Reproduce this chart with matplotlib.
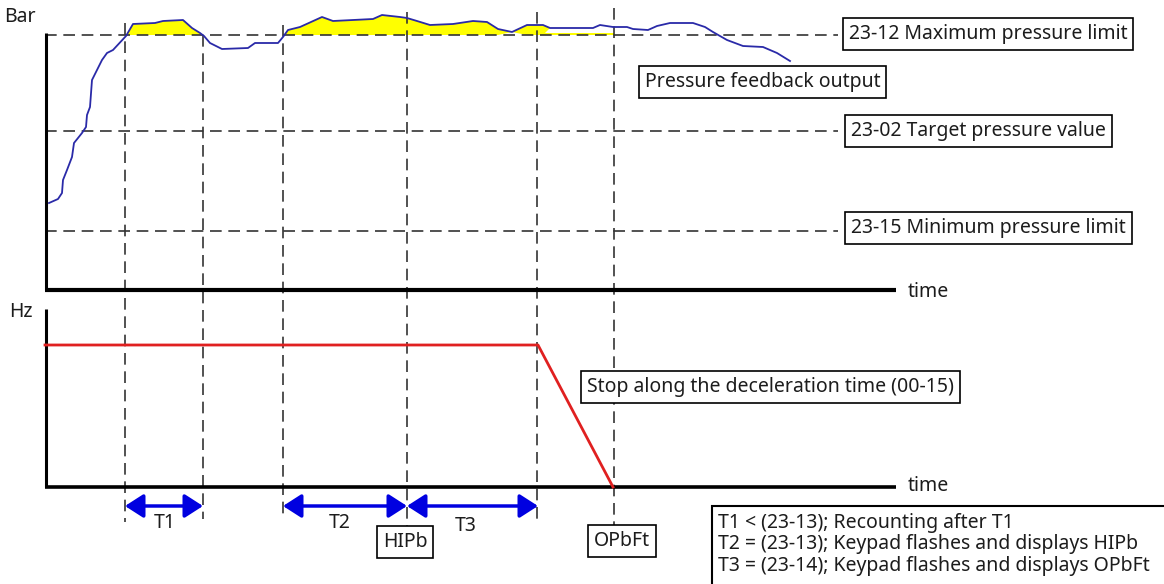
import matplotlib.pyplot as plt
from matplotlib.patches import Rectangle

plt.rcParams['font.family'] = ['Noto Sans', 'DejaVu Sans']

W, H = 1164, 584

# pressure feedback curve (x = time px, y = screen px, small y = high pressure)
press_x = [49, 58, 62, 63, 67, 72, 74, 82, 86, 87, 90, 92, 97, 102, 107, 113, 126, 133,
           155, 163, 183, 192, 200, 204, 210, 222, 248, 255, 278, 283, 288, 300, 322,
           333, 373, 382, 400, 407, 417, 430, 453, 473, 487, 498, 512, 527, 543, 550,
           593, 600, 613, 627, 633, 648, 657, 670, 693, 705, 713, 727, 743, 763, 777, 790]
press_y = [203, 199, 193, 180, 170, 157, 143, 133, 127, 115, 107, 80, 70, 60, 53, 50, 36, 24,
           23, 21, 20, 28, 33, 36, 43, 49, 48, 43, 43, 37, 30, 27, 17,
           21, 19, 15, 17, 18, 21, 25, 24, 21, 22, 29, 32, 25, 25, 28,
           28, 25, 27, 27, 29, 30, 26, 23, 23, 27, 32, 40, 46, 47, 53, 61]

max_limit = 35
target = 131
min_limit = 231

# frequency output
freq_x = [45, 538, 613]
freq_y = [345, 345, 487]

# vertical time markers: x, top, bottom
mark_x = [125, 203, 283, 407, 537, 614]
mark_top = [23, 35, 25, 12, 12, 8]
mark_bot = [522, 519, 520, 528, 522, 527]

# T intervals
spans = [(125, 203), (283, 407), (407, 538)]
span_labels = ['T1', 'T2', 'T3']
span_label_x = [165, 340, 466]
span_label_y = [523, 523, 526]

fig = plt.figure(figsize=(W / 100, H / 100), dpi=100)
ax = fig.add_axes([0, 0, 1, 1])
ax.set_xlim(0, W)
ax.set_ylim(H, 0)
ax.axis('off')

txt = '#1c1c1c'
fs = 14

# limit lines
for y in [max_limit, target, min_limit]:
    ax.plot([45, 838], [y, y], color='#333333', lw=1.2, ls=(0, (7, 4)), zorder=2)

# time markers
for x, t, b in zip(mark_x, mark_top, mark_bot):
    ax.plot([x, x], [t, b], color='#333333', lw=1.2, ls=(0, (7, 4)), zorder=2)

# yellow area above the max limit
ax.fill_between(press_x, press_y, max_limit,
                where=[(126 <= x <= 204) or (283 <= x <= 498) or (527 <= x <= 543) for x in press_x],
                color='#ffff00', interpolate=True, lw=0, zorder=1)
ax.fill_between([543, 614], [32.5, 32.5], max_limit, color='#ffff00', lw=0, zorder=1)
ax.plot(press_x, press_y, color='#2a2aa8', lw=1.3, zorder=3)

# axes of both panels
ax.plot([46, 46], [33, 290], color='black', lw=2.2, solid_capstyle='butt')
ax.plot([45, 896], [290, 290], color='black', lw=3, solid_capstyle='butt')
ax.plot([46, 46], [309, 487], color='black', lw=2.2, solid_capstyle='butt')
ax.plot([45, 896], [487, 487], color='black', lw=2.6, solid_capstyle='butt')

ax.plot(freq_x, freq_y, color='#e02020', lw=2, zorder=3)

ax.text(20, 17, 'Bar', ha='center', va='center', fontsize=fs, color=txt)
ax.text(21, 312, 'Hz', ha='center', va='center', fontsize=fs, color=txt)
ax.text(908, 292, 'time', ha='left', va='center', fontsize=fs, color=txt)
ax.text(908, 486, 'time', ha='left', va='center', fontsize=fs, color=txt)

box = dict(boxstyle='square,pad=0.3', fc='white', ec='black', lw=1.2)
ax.text(849, 34, '23-12 Maximum pressure limit', ha='left', va='center', fontsize=fs, color=txt, bbox=box)
ax.text(645, 82, 'Pressure feedback output', ha='left', va='center', fontsize=fs, color=txt, bbox=box)
ax.text(851, 131, '23-02 Target pressure value', ha='left', va='center', fontsize=fs, color=txt, bbox=box)
ax.text(851, 228, '23-15 Minimum pressure limit', ha='left', va='center', fontsize=fs, color=txt, bbox=box)
ax.text(587, 387, 'Stop along the deceleration time (00-15)', ha='left', va='center', fontsize=fs,
        color=txt, bbox=box)
ax.text(405, 542, 'HIPb', ha='center', va='center', fontsize=fs, color=txt, bbox=box)
ax.text(622, 541, 'OPbFt', ha='center', va='center', fontsize=fs, color=txt, bbox=box)

for (a, b), lab, lx, ly in zip(spans, span_labels, span_label_x, span_label_y):
    ax.annotate('', xy=(b, 506), xytext=(a, 506),
                arrowprops=dict(arrowstyle='<|-|>,head_length=0.7,head_width=0.45', color='#0000e0',
                                lw=2.5, shrinkA=0, shrinkB=0, mutation_scale=16))
    ax.text(lx, ly, lab, ha='center', va='center', fontsize=fs, color=txt)

ax.add_patch(Rectangle((712, 506), 460, 90, fc='white', ec='black', lw=1.5, zorder=4))
notes = ['T1 < (23-13); Recounting after T1',
         'T2 = (23-13); Keypad flashes and displays HIPb',
         'T3 = (23-14); Keypad flashes and displays OPbFt']
for i, s in enumerate(notes):
    ax.text(718, 523 + 21.5 * i, s, ha='left', va='center', fontsize=fs, color=txt, zorder=5)

fig.savefig('out.png', dpi=100)
